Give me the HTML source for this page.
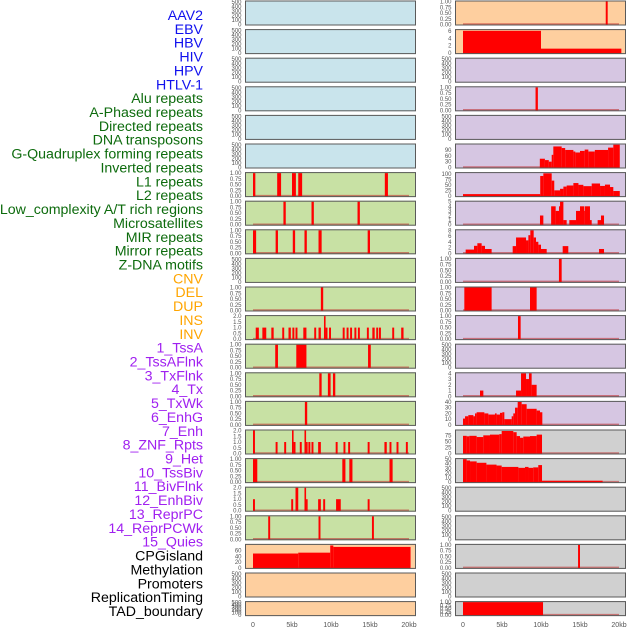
<!DOCTYPE html>
<html><head><meta charset="utf-8"><style>
html,body{margin:0;padding:0;background:#fff;}
svg{display:block;}
</style></head><body>
<svg id="chart" width="630" height="630" xmlns="http://www.w3.org/2000/svg"></svg>
<script>
const labels = ["AAV2","EBV","HBV","HIV","HPV","HTLV-1","Alu repeats","A-Phased repeats","Directed repeats","DNA transposons","G-Quadruplex forming repeats","Inverted repeats","L1 repeats","L2 repeats","Low_complexity A/T rich regions","Microsatellites","MIR repeats","Mirror repeats","Z-DNA motifs","CNV","DEL","DUP","INS","INV","1_TssA","2_TssAFlnk","3_TxFlnk","4_Tx","5_TxWk","6_EnhG","7_Enh","8_ZNF_Rpts","9_Het","10_TssBiv","11_BivFlnk","12_EnhBiv","13_ReprPC","14_ReprPCWk","15_Quies","CPGisland","Methylation","Promoters","ReplicationTiming","TAD_boundary"];
const labelGroups = [6,13,5,15,5];
const xTicks = [0,5,10,15,20];
const xTickLabels = ["0","5kb","10kb","15kb","20kb"];
const ticksEmpty = [0,100,200,300,400,500];
const ticksUnit = [0,0.25,0.5,0.75,1];
const ticksTwo = [0,0.5,1,1.5,2];

// Left column data: [startKb, endKb, value]
const L6 = [[0,0.3,1],[3.1,3.6,1],[5.0,5.5,1],[5.8,6.3,1],[16.9,17.3,1]];
const L7 = [[3.9,4.2,1],[7.5,7.8,1],[13.4,13.7,1]];
const L8 = [[0,0.4,1],[2.9,3.2,1],[5.1,5.4,1],[6.6,6.9,1],[8.4,8.8,1],[14.7,15.0,1]];
const L10 = [[8.7,9.0,1]];
const L11 = [[0.35,0.75,1],[1.2,1.7,1],[2.35,2.65,1],[3.75,4.0,1],[4.55,4.85,1],[5.05,5.3,1],[5.45,5.7,1],[6.45,6.85,1],[7.85,8.1,1],[8.4,8.7,1],[9.1,9.3,2],[9.3,9.55,1],[9.75,10.0,1],[11.5,11.75,1],[12.0,12.25,1],[12.45,12.7,1],[13.0,13.25,1],[13.45,13.7,1],[14.6,14.85,1],[15.3,15.6,1],[15.8,16.05,1],[16.15,16.4,1],[17.85,18.1,1],[19.0,19.3,1]];
const L12 = [[2.85,3.2,1],[5.55,6.85,1],[14.75,15.1,1]];
const L13 = [[8.5,8.8,1],[9.6,9.95,1],[10.25,10.55,1]];
const L14 = [[6.65,6.95,1]];
const L15 = [[0,0.25,2],[2.9,3.15,1],[4.0,4.25,1],[5.0,5.2,2],[5.2,5.45,1],[6.0,6.25,1],[6.6,6.8,2],[6.8,7.0,1],[7.1,7.35,1],[7.5,7.75,1],[8.35,8.7,1],[10.6,10.85,1],[11.6,11.85,1],[12.2,12.45,1],[14.7,14.95,1],[16.85,17.15,1],[17.5,17.75,1],[18.4,18.65,1],[19.6,19.85,1]];
const L16 = [[0,0.55,1],[11.45,11.85,1],[12.35,12.75,1],[17.5,17.9,1]];
const L17 = [[0,0.25,1],[4.9,5.15,1],[5.45,5.8,2],[6.6,6.8,2],[6.8,7.0,1],[8.35,8.7,1],[9.0,9.25,1],[10.65,11.25,1],[14.7,14.95,1]];
const L18 = [[1.95,2.2,1],[8.4,8.65,1],[15.25,15.5,1]];
const L19 = [[0,5.8,50],[5.8,9.9,53],[9.9,10.3,78],[10.3,20.2,73]];

// Right column data
const R0 = [[18.3,18.55,1]];
const R1 = [[0,10,6],[10,20.3,1.2]];
const R3 = [[9.3,9.6,1]];
const R5 = [[9.85,10.5,45],[10.5,11.0,38],[11.0,11.37,30],[11.37,11.58,65],[11.58,12.65,108],[12.65,13.1,100],[13.1,14.15,90],[14.15,14.4,82],[14.4,15.0,77],[15.0,15.6,85],[15.6,16.07,92],[16.07,16.9,82],[16.9,18.6,90],[18.6,19.27,102],[19.27,20.1,117]];
const R6 = [[0,9.9,9],[9.9,10.3,91],[10.3,11.37,103],[11.37,11.7,70],[11.7,12.44,26],[12.44,12.87,33],[12.87,13.29,43],[13.29,14.15,48],[14.15,14.8,59],[14.8,15.43,51],[15.43,16.5,45],[16.5,17.57,57],[17.57,18.2,46],[18.2,18.85,52],[18.85,19.27,41],[19.27,20.1,23]];
const R7 = [[9.87,10.3,2],[11.3,11.88,4],[11.88,12.31,3],[12.31,12.44,4],[12.44,12.87,5],[12.87,13.29,1],[13.63,14.49,1],[14.49,15.0,3],[15.0,15.56,4],[15.56,15.64,3],[15.64,16.28,4],[16.28,16.5,1],[17.26,17.69,1],[17.69,18.08,2]];
const R8 = [[0.34,1.41,1.3],[1.41,1.84,2.6],[1.84,2.39,3.5],[2.39,2.82,2.6],[2.82,3.67,1.5],[6.37,6.8,2.5],[6.8,8.08,5.5],[8.08,8.38,4.5],[8.38,8.63,6.3],[8.63,9.06,8],[9.06,9.36,5.5],[9.36,9.66,4],[9.66,10.0,3],[10.0,10.73,1.5],[12.78,13.5,2.5],[17.44,18.08,1.5]];
const R9 = [[12.3,12.65,1]];
const R10 = [[0.17,3.67,1],[8.59,9.44,1]];
const R11 = [[7.05,7.39,1]];
const R13 = [[2.18,2.61,1],[6.8,7.44,1],[7.44,8.08,4],[8.08,8.46,3],[8.46,8.8,4],[8.8,9.44,2]];
const R14 = [[0,0.26,11],[0.26,0.68,15],[0.68,1.33,17],[1.33,1.54,15],[1.54,1.75,20],[1.75,2.74,22],[2.74,3.25,20],[3.25,4.1,18],[4.1,4.31,20],[4.31,4.74,18],[4.74,5.04,21],[5.04,5.3,22],[5.3,6.24,10],[6.24,6.45,15],[6.45,6.67,20],[6.67,7.01,30],[7.01,7.52,40],[7.52,8.16,36],[8.16,9.44,28],[9.44,9.87,25],[9.87,10.17,22]];
const R15 = [[0,0.47,73],[0.47,0.81,71],[0.81,1.75,73],[1.75,2.6,68],[2.6,3.46,75],[3.46,4.65,78],[4.65,4.96,80],[4.96,6.45,93],[6.45,6.88,88],[6.88,7.31,72],[7.31,7.73,65],[7.73,8.59,70],[8.59,9.44,72],[9.44,10.13,78]];
const R16 = [[0,0.47,50],[0.47,0.9,47],[0.9,1.75,45],[1.75,3.0,42],[3.0,4.3,38],[4.3,4.96,36],[4.96,7.1,33],[7.1,7.95,31],[7.95,8.4,33],[8.4,9.0,31],[9.0,9.65,32],[9.65,10.13,37],[10.13,17.9,3]];
const R19 = [[14.75,15.0,1]];
const R21 = [[0,10.26,1]];

const panels = [
 [0,0,'b',ticksEmpty,null,510,null],[0,1,'b',ticksEmpty,null,510,null],[0,2,'b',ticksEmpty,null,510,null],
 [0,3,'b',ticksEmpty,null,510,null],[0,4,'b',ticksEmpty,null,510,null],[0,5,'b',ticksEmpty,null,510,null],
 [0,6,'g',ticksUnit,null,1,L6],[0,7,'g',ticksUnit,null,1,L7],[0,8,'g',ticksUnit,null,1,L8],
 [0,9,'g',ticksEmpty,null,510,null],[0,10,'g',ticksUnit,null,1,L10],[0,11,'g',ticksTwo,null,2,L11],
 [0,12,'g',ticksUnit,null,1,L12],[0,13,'g',ticksUnit,null,1,L13],[0,14,'g',ticksUnit,null,1,L14],
 [0,15,'g',ticksTwo,null,2,L15],[0,16,'g',ticksUnit,null,1,L16],[0,17,'g',ticksTwo,null,2,L17],
 [0,18,'g',ticksUnit,null,1,L18],[0,19,'p',[0,20,40,60],null,80,L19],[0,20,'p',ticksEmpty,null,510,null],
 [0,21,'p',ticksEmpty,null,510,null],
 [1,0,'p',ticksUnit,null,1,R0],[1,1,'p',[0,2,4,6],null,6.2,R1],[1,2,'v',ticksEmpty,null,510,null],
 [1,3,'v',ticksUnit,null,1,R3],[1,4,'v',ticksEmpty,null,510,null],[1,5,'v',[0,30,60,90],null,118,R5],
 [1,6,'v',[0,25,50,75,100],null,104,R6],[1,7,'v',[0,1,2,3,4,5],null,5,R7],[1,8,'v',[0,2,4,6,8],null,8,R8],
 [1,9,'v',ticksUnit,null,1,R9],[1,10,'v',ticksUnit,null,1,R10],[1,11,'v',ticksUnit,null,1,R11],
 [1,12,'v',ticksEmpty,null,510,null],[1,13,'v',[0,1,2,3,4],null,4,R13],[1,14,'v',[0,10,20,30,40],null,40,R14],
 [1,15,'c',[0,25,50,75],null,95,R15],[1,16,'c',[0,10,20,30,40,50],null,50,R16],[1,17,'c',ticksEmpty,null,510,null],
 [1,18,'c',ticksEmpty,null,510,null],[1,19,'c',ticksUnit,null,1,R19],[1,20,'c',ticksEmpty,null,510,null],
 [1,21,'c',ticksUnit,null,1,R21]
];
const bgColors = {b:'#c9e4ec',g:'#c8e1a4',p:'#fecf9f',v:'#d6c6e2',c:'#d0d0d0'};
const groupColors = ['#1010ee','#0d6b0d','#ffa500','#a020f0','#000000'];

const NS='http://www.w3.org/2000/svg';
const svg=document.getElementById('chart');
function mk(tag,attrs,parent){const e=document.createElementNS(NS,tag);for(const k in attrs)e.setAttribute(k,attrs[k]);(parent||svg).appendChild(e);return e;}
const colX0=[253,463], kbPx=7.8;
function xScale(col,kb){return colX0[col]+kb*kbPx;}
function fmt(t,ticks){const needs2=ticks.some(v=>Math.round(v*100)%50!==0&&v<5);const needs1=ticks.some(v=>v%1!==0);return needs2?t.toFixed(2):(needs1?t.toFixed(1):String(t));}

let gi=0,cnt=0;
labels.forEach((lab,i)=>{
  while(cnt>=labelGroups[gi]){cnt-=labelGroups[gi];gi++;}
  const t=mk('text',{x:203,y:15+i*13.86+5,'text-anchor':'end','font-family':'Liberation Sans, sans-serif','font-size':'14.2',fill:groupColors[gi]});
  t.textContent=lab;
  
  
  cnt++;
});

panels.forEach(p=>{
  const [col,row,bg,ticks,tl,ymax,data]=p;
  const bx=col===0?245:455, bw=171;
  const top=row*28.6+0.5, h=row===21?15:25;
  const g=mk('g',{});
  
  
  mk('rect',{x:bx,y:top,width:bw,height:h,fill:bgColors[bg]},g);
  const y0=top+h-1, y1=top+1;
  const ys=v=>y0-(v/ymax)*(y0-y1);
  if(data){
    mk('line',{x1:xScale(col,0),x2:xScale(col,20),y1:y0-0.5,y2:y0-0.5,stroke:'rgba(190,40,40,0.55)','stroke-width':1.5},g);
    data.forEach(d=>{
      const xa=xScale(col,d[0]), xb=xScale(col,d[1]);
      const r=mk('rect',{x:xa,y:ys(d[2]),width:Math.max(xb-xa,1.6),height:y0-ys(d[2])+0.5,fill:'#ff0000'},g);
      
      
    });
  }
  mk('rect',{x:bx+0.5,y:top+0.5,width:bw-1,height:h-1,fill:'none',stroke:'#5a5a5a','stroke-width':1},g);
  ticks.forEach(t=>{
    const tx=mk('text',{x:bx-3.5,y:ys(t)+2,'text-anchor':'end','font-family':'Liberation Sans, sans-serif','font-size':'6',fill:'#555'},g);
    tx.textContent=fmt(t,ticks);
  });
});

[0,1].forEach(col=>{
  xTicks.forEach((v,i)=>{
    const t=mk('text',{x:xScale(col,v),y:627,'text-anchor':'middle','font-family':'Liberation Sans, sans-serif','font-size':'7',fill:'#555'});
    t.textContent=xTickLabels[i];
    
    
  });
});
</script>
</body></html>
